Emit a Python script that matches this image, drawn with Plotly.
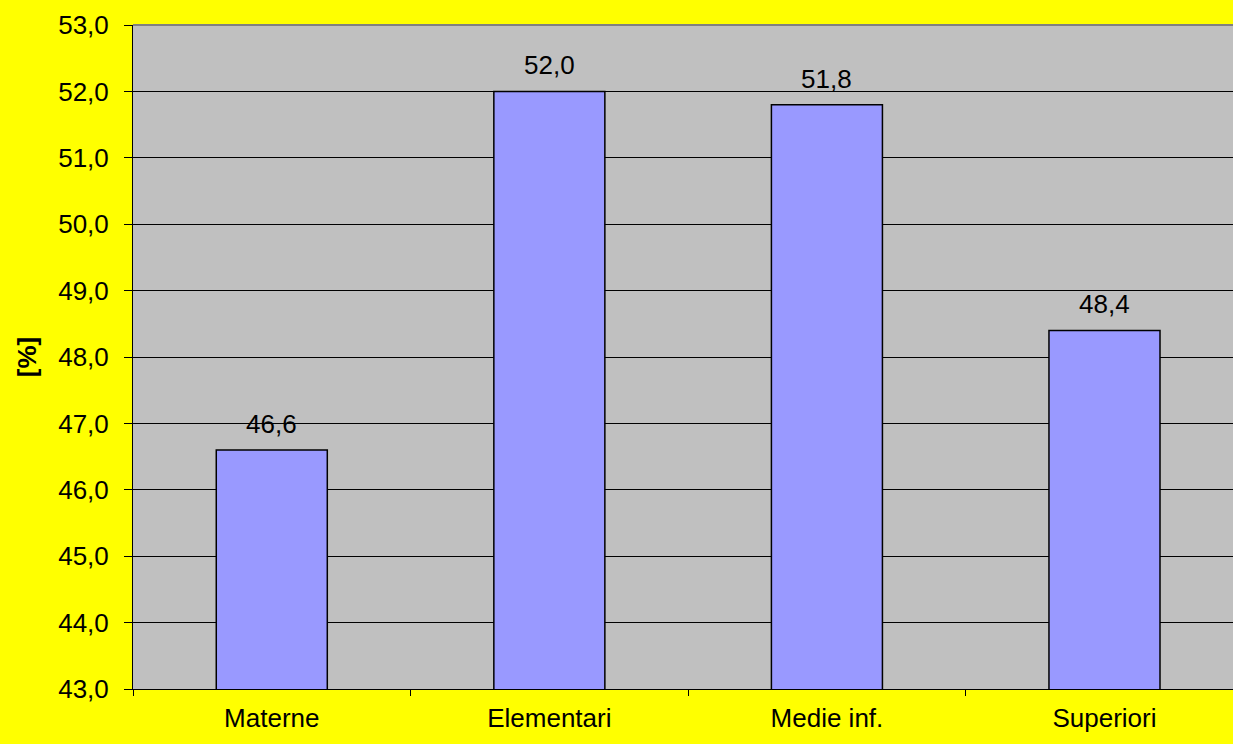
import plotly.graph_objects as go

categories = ["Materne", "Elementari", "Medie inf.", "Superiori"]
values = [46.6, 52.0, 51.8, 48.4]
y_ticks = [43, 44, 45, 46, 47, 48, 49, 50, 51, 52, 53]

font_family = "Liberation Sans, Arial, sans-serif"
fs = 26

fig = go.Figure(
    go.Bar(
        x=categories,
        y=values,
        width=0.4,
        marker=dict(color="#9999FF", line=dict(color="black", width=1.5)),
        cliponaxis=False,
    )
)

# value labels above each bar, decimal comma
for cat, val in zip(categories, values):
    fig.add_annotation(
        x=cat, y=val,
        text=f"{val:.1f}".replace(".", ","),
        showarrow=False,
        yanchor="bottom",
        yshift=9,
        font=dict(size=fs, color="black", family=font_family),
    )

fig.update_layout(
    width=1233,
    height=744,
    margin=dict(l=133, r=0, t=25, b=55),
    paper_bgcolor="#FFFF00",
    plot_bgcolor="#C0C0C0",
    separators=",.",
    showlegend=False,
    font=dict(family=font_family, size=fs, color="black"),
    xaxis=dict(
        range=[-0.5, 3.463],
        showgrid=False,
        showline=True,
        linecolor="black",
        linewidth=1,
        ticks="outside",
        tickson="boundaries",
        ticklen=6,
        tickcolor="black",
        tickfont=dict(size=fs),
        ticklabelstandoff=6,
    ),
    yaxis=dict(
        range=[43, 53],
        tickvals=y_ticks,
        tickformat=".1f",
        showgrid=True,
        gridcolor="black",
        gridwidth=1,
        showline=True,
        linecolor="black",
        linewidth=1,
        ticks="outside",
        ticklen=8,
        tickcolor="black",
        tickfont=dict(size=fs),
        ticklabelstandoff=10,
        title=dict(text="<b>[%]</b>", font=dict(size=fs), standoff=14),
        zeroline=False,
    ),
)

# grey frame line across the top of the plotting area
fig.add_shape(
    type="line", xref="paper", yref="paper",
    x0=0, x1=1, y0=1, y1=1,
    line=dict(color="#808080", width=2),
)

fig.write_html("out.html")
